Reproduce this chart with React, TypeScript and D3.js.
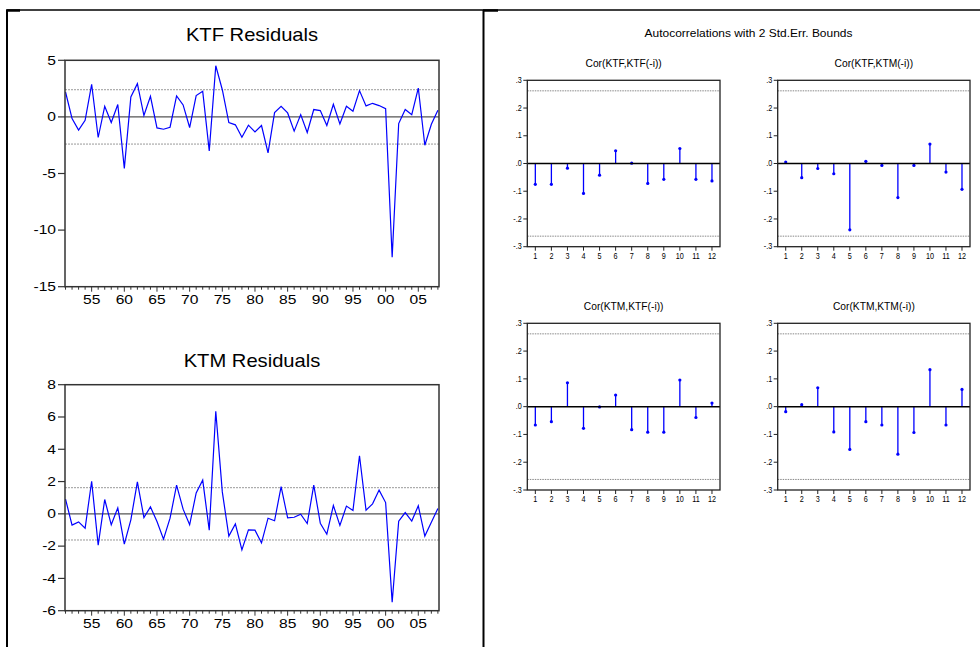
import React from "react";
import * as d3 from "d3";

const years: number[] = d3.range(1951, 2009);

const ktfResid: number[] = [
  2.2, -0.15, -1.17, -0.3, 2.88, -1.82, 0.94, -0.5, 1.09, -4.55,
  1.76, 2.94, 0.12, 1.82, -0.97, -1.09, -0.91, 1.85, 1.06, -0.94,
  1.88, 2.26, -3.0, 4.52, 2.4, -0.5, -0.7, -1.79, -0.73, -1.32,
  -0.76, -3.17, 0.38, 0.94, 0.35, -1.26, 0.2, -1.38, 0.65, 0.56,
  -0.76, 1.12, -0.62, 0.94, 0.5, 2.32, 0.97, 1.2, 1.0, 0.73,
  -12.4, -0.59, 0.65, 0.2, 2.55, -2.5, -0.65, 0.59,
];

const ktmResid: number[] = [
  0.91, -0.7, -0.5, -0.89, 2.02, -1.94, 0.89, -0.68, 0.37, -1.88,
  -0.37, 1.98, -0.23, 0.43, -0.48, -1.57, -0.27, 1.78, 0.29, -0.68,
  1.3, 2.09, -1.01, 6.36, 1.36, -1.38, -0.62, -2.23, -0.99, -1.01,
  -1.8, -0.27, -0.43, 1.69, -0.25, -0.21, -0.02, -0.6, 1.78, -0.58,
  -1.26, 0.52, -0.72, 0.48, 0.21, 3.6, 0.23, 0.62, 1.47, 0.7,
  -5.48, -0.45, 0.08, -0.45, 0.5, -1.38, -0.52, 0.33,
];

const ktfBand = 2.4;
const ktmBand = 1.62;
const ktfTicks: number[] = [5, 0, -5, -10, -15];
const ktmTicks: number[] = [8, 6, 4, 2, 0, -2, -4, -6];
const yearLabels: number[] = [1955, 1960, 1965, 1970, 1975, 1980, 1985, 1990, 1995, 2000, 2005];

const lags: number[] = d3.range(1, 13);
const acfKtfKtf: number[] = [-0.075, -0.075, -0.017, -0.108, -0.042, 0.046, 0.001, -0.072, -0.057, 0.054, -0.057, -0.063];
const acfKtfKtm: number[] = [0.005, -0.051, -0.018, -0.037, -0.239, 0.008, -0.007, -0.123, -0.007, 0.07, -0.031, -0.093];
const acfKtmKtf: number[] = [-0.066, -0.054, 0.086, -0.078, -0.001, 0.042, -0.083, -0.092, -0.092, 0.096, -0.039, 0.013];
const acfKtmKtm: number[] = [-0.018, 0.007, 0.068, -0.091, -0.154, -0.054, -0.066, -0.171, -0.093, 0.133, -0.066, 0.062];
const acfBound = 0.262;
const acfTicks: number[] = [0.3, 0.2, 0.1, 0, -0.1, -0.2, -0.3];
const acfTickLabels: string[] = [".3", ".2", ".1", ".0", "-.1", "-.2", "-.3"];

const FONT = "'Liberation Sans', Arial, sans-serif";
const BLUE = "#0000ff";

function SText({ x, y, sx, size, anchor, children, weight }: any) {
  return (
    <text
      transform={`translate(${x},${y}) scale(${sx},1)`}
      fontFamily={FONT}
      fontSize={size}
      textAnchor={anchor || "start"}
      dominantBaseline="central"
      fill="#000"
      fontWeight={weight || "normal"}
    >
      {children}
    </text>
  );
}

function ResidPanel({ title, values, band, ticks, top, bottom, titleY }: any) {
  const left = 65;
  const right = 439;
  const x = d3.scaleLinear().domain([1950.92, 2008.17]).range([left, right]);
  const y = d3.scaleLinear().domain([ticks[ticks.length - 1], ticks[0]]).range([bottom, top]);
  const line = d3
    .line<number>()
    .x((_, i) => x(years[i]))
    .y((d) => y(d));
  return (
    <g>
      <SText x={(left + right) / 2} y={titleY} sx={1.14} size={17.7} anchor="middle">
        {title}
      </SText>
      <line x1={left} x2={right} y1={y(band)} y2={y(band)} stroke="#999" strokeWidth={1} strokeDasharray="2,1" />
      <line x1={left} x2={right} y1={y(-band)} y2={y(-band)} stroke="#999" strokeWidth={1} strokeDasharray="2,1" />
      <line x1={left} x2={right} y1={y(0)} y2={y(0)} stroke="#555" strokeWidth={1.4} />
      <path d={line(values) || ""} fill="none" stroke={BLUE} strokeWidth={1.2} />
      <rect x={left} y={top} width={right - left} height={bottom - top} fill="none" stroke="#333" strokeWidth={1.5} />
      {ticks.map((t: number) => (
        <g key={t}>
          <line x1={left - 7} x2={left} y1={y(t)} y2={y(t)} stroke="#333" strokeWidth={1.2} />
          <SText x={56} y={y(t)} sx={1.3} size={12} anchor="end">
            {String(t)}
          </SText>
        </g>
      ))}
      {years.map((yr) => (
        <line
          key={yr}
          x1={x(yr)}
          x2={x(yr)}
          y1={bottom}
          y2={bottom + (yr % 5 === 0 ? 5 : 3)}
          stroke="#333"
          strokeWidth={1}
        />
      ))}
      {yearLabels.map((yr) => (
        <SText key={yr} x={x(yr)} y={bottom + 13.3} sx={1.3} size={12} anchor="middle">
          {String(yr % 100).padStart(2, "0")}
        </SText>
      ))}
    </g>
  );
}

function AcfPanel({ title, values, left, right, top, bottom }: any) {
  const x = d3.scaleLinear().domain([0.5, 12.5]).range([left, right]);
  const y = d3.scaleLinear().domain([-0.3, 0.3]).range([bottom, top]);
  return (
    <g>
      <SText x={(left + right) / 2} y={top - 17.6} sx={0.9} size={11.4} anchor="middle">
        {title}
      </SText>
      <line x1={left} x2={right} y1={y(acfBound)} y2={y(acfBound)} stroke="#888" strokeWidth={1} strokeDasharray="1.5,1" />
      <line x1={left} x2={right} y1={y(-acfBound)} y2={y(-acfBound)} stroke="#888" strokeWidth={1} strokeDasharray="1.5,1" />
      {values.map((v: number, i: number) => (
        <g key={i}>
          <line x1={x(lags[i])} x2={x(lags[i])} y1={y(0)} y2={y(v)} stroke={BLUE} strokeWidth={1.3} />
          <circle cx={x(lags[i])} cy={y(v)} r={1.6} fill={BLUE} />
        </g>
      ))}
      <line x1={left} x2={right} y1={y(0)} y2={y(0)} stroke="#000" strokeWidth={1.5} />
      <rect x={left} y={top} width={right - left} height={bottom - top} fill="none" stroke="#222" strokeWidth={1.3} />
      {acfTicks.map((t, i) => (
        <g key={i}>
          <line x1={left - 4} x2={left} y1={y(t)} y2={y(t)} stroke="#222" strokeWidth={1} />
          <SText x={left - 5.5} y={y(t)} sx={0.85} size={8.5} anchor="end">
            {acfTickLabels[i]}
          </SText>
        </g>
      ))}
      {lags.map((l) => (
        <g key={l}>
          <line x1={x(l)} x2={x(l)} y1={bottom} y2={bottom + 4} stroke="#222" strokeWidth={1} />
          <SText x={x(l)} y={bottom + 9} sx={0.78} size={9.3} anchor="middle">
            {String(l)}
          </SText>
        </g>
      ))}
    </g>
  );
}

export default function App() {
  return (
    <svg
      width={980}
      height={647}
      style={{ position: "absolute", left: 0, top: 0, display: "block", background: "#fff" }}
    >
      <rect x={0} y={0} width={980} height={647} fill="#fff" />
      {/* outer frame */}
      <line x1={6} x2={980} y1={10} y2={10} stroke="#000" strokeWidth={1.3} />
      <line x1={7} x2={20} y1={10.5} y2={10.5} stroke="#000" strokeWidth={2.5} />
      <line x1={483} x2={498} y1={10.5} y2={10.5} stroke="#000" strokeWidth={2.5} />
      <line x1={7} x2={7} y1={10} y2={647} stroke="#000" strokeWidth={2} />
      <line x1={483.5} x2={483.5} y1={10} y2={647} stroke="#000" strokeWidth={2} />

      <ResidPanel title="KTF Residuals" values={ktfResid} band={ktfBand} ticks={ktfTicks} top={60.3} bottom={286.7} titleY={35} />
      <ResidPanel title="KTM Residuals" values={ktmResid} band={ktmBand} ticks={ktmTicks} top={384.7} bottom={610.7} titleY={360.7} />

      <SText x={748.5} y={32.7} sx={1.04} size={11.5} anchor="middle">
        Autocorrelations with 2 Std.Err. Bounds
      </SText>
      <AcfPanel title="Cor(KTF,KTF(-i))" values={acfKtfKtf} left={527.3} right={720} top={80.3} bottom={246.7} />
      <AcfPanel title="Cor(KTF,KTM(-i))" values={acfKtfKtm} left={777.7} right={970} top={80.3} bottom={246.7} />
      <AcfPanel title="Cor(KTM,KTF(-i))" values={acfKtmKtf} left={527.3} right={720} top={323.3} bottom={490} />
      <AcfPanel title="Cor(KTM,KTM(-i))" values={acfKtmKtm} left={777.7} right={970} top={323.3} bottom={490} />
    </svg>
  );
}
